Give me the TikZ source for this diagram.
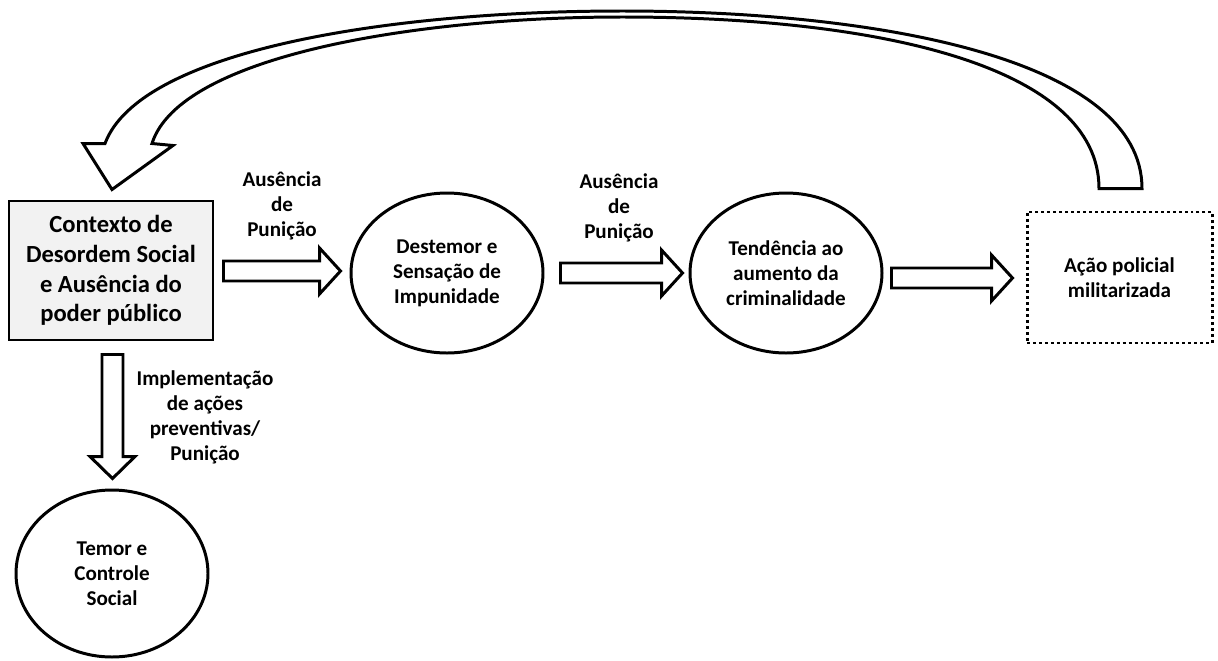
\documentclass[tikz,border=0pt]{standalone}
\usepackage{fontspec}
\setmainfont{Carlito}
\usetikzlibrary{calc,shapes.geometric}

% one drawing unit = 0.02cm
\newcommand\pxu{0.02cm}

% right-pointing block arrow: #1 tail point, #2 point whose x gives the tip
\newcommand\harrow[2]{%
  \coordinate (ha-tip) at (#2 |- #1);
  \draw[blockarrow] ($(#1)+(0,-10)$) -- ($(ha-tip)+(-21,-10)$) -- ($(ha-tip)+(-21,-23)$)
    -- (ha-tip) -- ($(ha-tip)+(-21,23)$) -- ($(ha-tip)+(-21,10)$) -- ($(#1)+(0,10)$) -- cycle;}

% downward block arrow: #1 tail point, #2 point whose y gives the tip
\newcommand\varrow[2]{%
  \coordinate (va-tip) at (#1 |- #2);
  \draw[blockarrow] ($(#1)+(-10.5,0)$) -- ($(va-tip)+(-10.5,-22)$) -- ($(va-tip)+(-22.5,-22)$)
    -- (va-tip) -- ($(va-tip)+(22.5,-22)$) -- ($(va-tip)+(10.5,-22)$) -- ($(#1)+(10.5,0)$) -- cycle;}

\begin{document}
\begin{tikzpicture}[x=0.02cm, y=-0.02cm,
  outline/.style={draw=black, line width=1.7pt},
  blockarrow/.style={outline, fill=white, line join=miter},
  bigtext/.style={font=\fontsize{14}{16.9}\selectfont\bfseries, align=center},
  smalltext/.style={font=\fontsize{12}{14.2}\selectfont\bfseries, align=center},
  ctxbox/.style={outline, fill=black!5, rectangle, inner sep=0pt,
    minimum width=204*\pxu, minimum height=139*\pxu, bigtext},
  stage/.style={outline, ellipse, inner sep=0pt,
    minimum width=192*\pxu, minimum height=160*\pxu, smalltext},
  policebox/.style={draw=black, line width=1.7pt, dash pattern=on 1.7pt off 1.7pt,
    rectangle, inner sep=0pt, minimum width=185*\pxu, minimum height=131*\pxu, smalltext},
  lbl/.style={smalltext, inner sep=0pt}
]
\useasboundingbox (0,0) rectangle (1218,660);

% main chain
\node[ctxbox] (ctx) at (111,270.5) {Contexto de\\Desordem Social\\e Ausência do\\poder público};
\node[stage] (d1) at (447,273) {Destemor e\\Sensação de\\Impunidade};
\node[stage] (d2) at (786,273) {Tendência ao\\aumento da\\criminalidade};
\node[policebox] (act) at (1119.5,277.5) {Ação policial\\militarizada};
\node[stage, minimum height=167*\pxu] (temor) at (112,573.5) {Temor e\\Controle\\Social};

% arrow labels
\node[lbl] (l1) at (282,206) {Ausência\\de\\Punição};
\node[lbl] (l2) at (619,208) {Ausência\\de\\Punição};
\node[lbl] (l3) at (205,417.5) {Implementação\\de ações\\preventivas/\\Punição};

% straight block arrows
\coordinate (a1s) at ($(ctx.east)+(9,0.5)$);
\coordinate (a1t) at ($(d1.west)+(-9,0)$);
\harrow{a1s}{a1t}
\coordinate (a2s) at ($(d1.east)+(16,0)$);
\coordinate (a2t) at ($(d2.west)+(-6,0)$);
\harrow{a2s}{a2t}
\coordinate (a3s) at ($(d2.east)+(8,5)$);
\coordinate (a3t) at ($(act.west)+(-13,0)$);
\harrow{a3s}{a3t}
\coordinate (a4s) at ($(ctx.south)+(1.5,13)$);
\coordinate (a4t) at ($(temor.north)+(0,-10)$);
\varrow{a4s}{a4t}

% curved return arrow from the police action back to the context box
\coordinate (rt) at ($(act.north)+(1,-22)$);
\coordinate (rh) at ($(ctx.north)+(1,-10)$);
\draw[blockarrow]
  ($(rh)+(-29,-46)$) -- ($(rh)+(-7,-46)$)
  .. controls (140,50) and (390,11) .. (622,11)
  .. controls (880,11) and ($(rt)+(21.5,-129)$) .. ($(rt)+(21.5,0)$)
  -- ($(rt)+(-21.5,0)$)
  .. controls ($(rt)+(-21.5,-122)$) and (880,17) .. (622,17)
  .. controls (420,17) and (180,55) .. ($(rh)+(40,-46)$)
  -- ($(rh)+(61,-44)$) -- (rh) -- cycle;
\end{tikzpicture}
\end{document}
